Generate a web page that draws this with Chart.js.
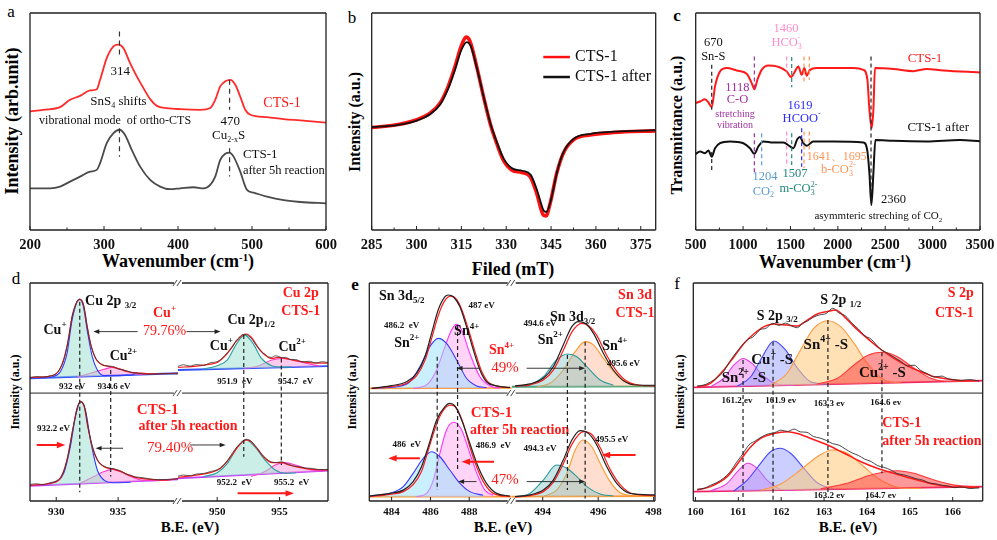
<!DOCTYPE html>
<html>
<head>
<meta charset="utf-8">
<script src="https://cdn.jsdelivr.net/npm/chart.js@4.4.1/dist/chart.umd.min.js"></script>
<style>
  body { margin: 0; background: #fff; width: 997px; height: 540px; position: relative; overflow: hidden; }
  canvas { position: absolute; }
  .t { position: absolute; white-space: nowrap; font-family: "Liberation Serif", serif; color: #000; transform: translate(-50%, -50%); line-height: 1; }
  .rot { transform: translate(-50%, -50%) rotate(-90deg); }
  .t sup { font-size: 0.6em; vertical-align: 0.6em; }
</style>
</head>
<body>
<div class="t" style="left:11px;top:11px;font-size:17px">a</div>
<div class="t" style="left:352px;top:17px;font-size:17px">b</div>
<div class="t" style="left:677px;top:15px;font-size:17px;font-weight:bold">c</div>
<div class="t" style="left:16px;top:278px;font-size:17px">d</div>
<div class="t" style="left:355px;top:284px;font-size:17px;font-weight:bold">e</div>
<div class="t" style="left:677px;top:283px;font-size:17px">f</div>

<div class="t rot" style="left:12px;top:121px;font-size:18px;font-weight:bold">Intensity (arb.unit)</div>
<div class="t" style="left:178px;top:261px;font-size:18px;font-weight:bold">Wavenumber (cm<sup>-1</sup>)</div>
<div class="t rot" style="left:355px;top:122px;font-size:16px;font-weight:bold">Intensity (a.u.)</div>
<div class="t" style="left:513px;top:269px;font-size:18px;font-weight:bold">Filed (mT)</div>
<div class="t rot" style="left:677px;top:125px;font-size:16px;font-weight:bold">Transmittance (a.u.)</div>
<div class="t" style="left:835px;top:262px;font-size:18px;font-weight:bold">Wavenumber (cm<sup>-1</sup>)</div>

<div class="t rot" style="left:15px;top:392px;font-size:12px;font-weight:bold">Intensity (a.u.)</div>
<div class="t" style="left:190px;top:527px;font-size:15px;font-weight:bold">B.E. (eV)</div>
<div class="t rot" style="left:352px;top:392px;font-size:12px;font-weight:bold">Intensity (a.u.)</div>
<div class="t" style="left:503px;top:527px;font-size:15px;font-weight:bold">B.E. (eV)</div>
<div class="t rot" style="left:680px;top:392px;font-size:12px;font-weight:bold">Intensity (a.u.)</div>
<div class="t" style="left:848px;top:527px;font-size:15px;font-weight:bold">B.E. (eV)</div>

<script>
// ===== DATA (x in axis units, y in arbitrary intensity 0-100 of the frame) =====

// a: Raman
const ramanCts1 = [[200,54.6],[218,55.4],[240.6,56.6],[254.1,60],[267.7,61.8],[281.2,64.3],[290.2,64.9],[294.7,69.2],[303.7,79.2],[312.8,84.6],[319.5,85.4],[326.3,83.8],[335.3,76.9],[344.3,70.8],[353.3,65.4],[362.4,60.3],[371.4,57.2],[384.9,56.2],[403,55.7],[430,55.4],[443.5,56.2],[450.3,60],[457.1,66.2],[463.8,68.5],[470.6,69.2],[477.4,66.9],[484.1,61.5],[490.9,55.4],[497.7,53.1],[520.2,52],[542.8,51.1],[565.3,50.5],[600,49.5]];
const ramanAfter = [[200,19.2],[227.1,19.2],[240.6,20],[254.1,22.3],[267.7,24.6],[281.2,26.9],[290.2,27.7],[294.7,30.8],[303.7,40],[312.8,44.6],[320.9,46.2],[328.5,43.8],[337.5,36.9],[348.8,29.2],[362.4,23.1],[375.9,20],[389.4,18.8],[403,19.2],[421,19.7],[434.5,19.2],[443.5,20.8],[450.3,24.6],[457.1,32.3],[463.8,35.1],[469.7,35.7],[475.1,33.8],[484.1,26.9],[493.2,18.5],[502.2,17.2],[520.2,15.4],[542.8,13.8],[565.3,12.9],[600,12.3]];
const ramanTicks = [200, 300, 400, 500, 600];

// b: EPR
const eprCts1 = [[285,47.2],[293.4,48.5],[300.1,50.8],[304.5,53.8],[307.9,58.5],[310.6,66.2],[312.9,75.4],[314.9,84.6],[316.6,88.9],[317.9,86.9],[320.1,75.4],[322.4,61.5],[324.6,49.2],[326.8,40],[329,32.3],[331.8,27.7],[335.2,26.5],[338,24.6],[340.2,16.9],[342.4,6.9],[343.3,6.5],[344.7,12.3],[346.9,26.2],[349.1,35.4],[352.5,41.5],[358,43.8],[365.8,44.9],[380,45.7]];
const eprAfter = [[285,47.4],[293.4,48.3],[300.1,50.4],[304.5,53.3],[307.9,57.8],[310.6,65.2],[312.9,74],[314.9,82.6],[316.8,86.6],[318.1,84.8],[320.3,74],[322.6,60.5],[324.8,48.7],[327,40],[329.2,32.8],[332,28.4],[335.4,27.3],[338.2,25.4],[340.4,18],[342.6,8.8],[343.4,8.3],[344.9,13.5],[347.1,27.3],[349.3,36.3],[352.7,42.2],[358.2,44.3],[366,45.3],[380,46]];
const eprTicks = [285, 300, 315, 330, 345, 360, 375];

// c: FTIR
const ftirCts1 = [[500,58.5],[546,59.2],[598,60.3],[634,58.8],[669,56.6],[704,66.2],[757,73.1],[827,74.6],[933,73.5],[1038,72],[1091,67.7],[1119,64.9],[1151,69.2],[1196,73.8],[1267,75.8],[1355,75.4],[1460,73.1],[1506,70.5],[1548,73.1],[1583,75.4],[1618,71.5],[1647,74.6],[1671,71.1],[1706,73.8],[1777,74.6],[1953,74.6],[2164,74.6],[2269,73.8],[2312,69.2],[2333,55.4],[2357,46.9],[2375,55.4],[2392,74.6],[2586,74.2],[2797,73.2],[2937,74.2],[3113,73.5],[3500,72.6]];
const ftirAfter = [[500,35.1],[546,36.2],[598,35.4],[634,36.6],[669,33.8],[704,37.7],[757,40],[862,40.8],[1003,40],[1073,37.7],[1119,35.1],[1161,38.5],[1214,40.8],[1319,40.3],[1425,40.3],[1495,38.5],[1530,37.7],[1572,41.8],[1600,42.8],[1636,40],[1671,38.8],[1741,40.8],[1953,40.8],[2269,40.3],[2312,36.2],[2333,26.2],[2354,11.5],[2375,26.2],[2396,41.5],[2586,41.1],[2937,40.8],[3289,41.5],[3500,40.9]];
const ftirTicks = [500, 1000, 1500, 2000, 2500, 3000, 3500];

// d: Cu 2p (left: 2p3/2, right: 2p1/2), top = CTS-1, bottom = after 5h
const dTLFit = [[927.88,56.7],[929.51,57.3],[930.33,60.9],[930.87,70.8],[931.28,84.6],[931.68,91.4],[931.9,92.5],[932.17,90.7],[932.5,80],[932.83,70.8],[933.18,65.4],[933.59,62.8],[934.4,61.6],[934.95,60.9],[935.76,59.3],[936.58,58.8],[937.66,58.3],[939.84,58.6]];
const dTLRaw = [[927.88,56.5],[928.4,57.1],[928.9,56.8],[929.51,57.4],[930,58.4],[930.33,61],[930.6,64.5],[930.87,71],[931.1,78],[931.28,84.5],[931.5,89],[931.68,91.5],[931.9,92.6],[932.17,90.5],[932.35,86],[932.5,80.2],[932.7,74],[932.83,71],[933.18,65.6],[933.59,63],[934,62],[934.4,61.8],[934.7,61.5],[934.95,60.6],[935.3,60.3],[935.76,59.6],[936.2,58.8],[936.58,58.6],[937.1,58.2],[937.66,58.1],[938.5,58.4],[939.84,58.3]];
const dTLCu1 = [[929.51,56.6],[930.33,59.3],[930.87,67.7],[931.28,83],[931.68,91.4],[931.9,92.5],[932.17,89.9],[932.5,78.4],[932.91,66.2],[933.32,60.1],[933.86,57.5],[934.67,57.5],[936.3,57.9]];
const dTLCu2 = [[931.68,56.9],[932.77,58.6],[933.86,60.4],[934.54,61.3],[935.22,60.4],[936.03,58.9],[936.85,58.1],[937.66,58.2]];
const dTLBase = [[927.88,56.3],[939.84,58.6]];
const dBLFit = [[927.88,7.3],[929.51,8.1],[930.33,10.4],[930.87,18.8],[931.28,31],[931.68,42.5],[931.96,45.6],[932.23,44],[932.55,34.1],[932.91,24.9],[933.32,18.8],[933.86,15.7],[934.67,14.5],[935.22,13.5],[936.03,11.5],[936.85,10.4],[939.02,9.6],[939.84,10.4]];
const dBLRaw = [[927.88,7.6],[928.4,7.9],[928.9,7.5],[929.51,8.4],[930,9.2],[930.33,10.8],[930.6,13.5],[930.87,19],[931.1,25],[931.28,31.2],[931.5,37.5],[931.68,42.3],[931.96,45.4],[932.23,44.2],[932.4,40],[932.55,34.5],[932.75,29],[932.91,25.2],[933.32,19],[933.6,16.8],[933.86,16],[934.2,15.2],[934.67,14.8],[935,14.2],[935.22,13.8],[935.6,12.5],[936.03,11.8],[936.4,11],[936.85,10.8],[937.5,10.2],[938.2,9.8],[939.02,9.9],[939.84,10.2]];
const dBLCu1 = [[929.51,7.8],[930.6,12.7],[931.14,24.9],[931.55,38.7],[931.96,45.6],[932.36,41.7],[932.77,27.9],[933.32,14.2],[933.86,9.6],[934.67,8.4],[936,8.6]];
const dBLCu2 = [[931.96,8.1],[933.04,11.2],[933.86,13.5],[934.54,14.5],[935.22,13.5],[936.03,11.2],[936.85,9.6],[937.93,9.3]];
const dBLBase = [[927.88,6.9],[939.84,9.9]];
const dTRFit = [[946.86,61.3],[948.36,61.9],[949.45,62.8],[950,63.5],[950.82,67.7],[951.5,73.1],[952.05,76.1],[952.32,76.6],[952.73,75.1],[953.28,70.5],[953.83,67],[954.37,65.4],[954.92,65.9],[955.46,65.4],[956.28,64.4],[957.38,63.5],[958.88,63.2]];
const dTRRaw = [[946.86,61.8],[947.3,62.5],[947.8,61.9],[948.36,62.6],[948.9,62.2],[949.45,63.4],[950,63.9],[950.4,65.5],[950.82,68.2],[951.2,70.5],[951.5,73.4],[951.8,75.2],[952.05,76.4],[952.32,76.3],[952.73,74.6],[953,72.5],[953.28,70.2],[953.6,68],[953.83,67.4],[954.1,66.1],[954.37,65.9],[954.64,66.6],[954.92,66.3],[955.2,65.7],[955.46,65.9],[955.9,64.9],[956.28,64.9],[956.8,63.8],[957.38,64.1],[957.9,63.3],[958.4,63.9],[958.88,63.5]];
const dTRCu1 = [[948.91,60.6],[950,62],[950.82,64.7],[951.5,71.6],[952.19,76.1],[952.87,72.3],[953.55,65.4],[954.37,62],[955.19,61.4],[956,61.5]];
const dTRCu2 = [[952.19,60.8],[953.28,61.9],[954.37,64.7],[955.19,65.4],[956.01,64.7],[957.1,63.2],[958.2,61.9]];
const dTRBase = [[946.86,60.1],[958.88,61.9]];
const dBRFit = [[946.86,10.9],[948.36,11.9],[949.45,13],[950.27,15],[951.09,20.3],[951.78,25.7],[952.32,28],[952.73,27.2],[953.28,23.4],[953.83,19.6],[954.37,17.6],[955.19,17.6],[955.74,16.5],[956.56,15.4],[957.65,14.5],[958.88,14.2]];
const dBRRaw = [[946.86,11.4],[947.3,11.9],[947.8,11.6],[948.36,12.4],[948.9,12.6],[949.45,13.5],[950,14.3],[950.27,15.3],[950.7,17.6],[951.09,20.8],[951.4,23.5],[951.78,26],[952.05,27.6],[952.32,28.3],[952.73,27.4],[953,25.6],[953.28,23.8],[953.55,21.5],[953.83,20],[954.1,18.6],[954.37,17.9],[954.7,17.6],[955.19,18],[955.5,17.2],[955.74,16.8],[956.1,16.1],[956.56,15.7],[957,15.2],[957.65,14.9],[958.2,14.4],[958.88,14.5]];
const dBRCu1 = [[948.91,11.2],[950,13],[950.82,17.3],[951.64,24.9],[952.32,28],[953.01,24.9],[953.83,18.8],[954.64,14.2],[955.46,12.7],[956.3,12.9]];
const dBRCu2 = [[952.73,11.2],[953.83,13.5],[954.64,16.5],[955.46,17.6],[956.28,16.5],[957.38,14.5],[958.47,13.5]];
const dBRBase = [[946.86,10.4],[958.88,13.9]];
const dLeftTicks = [930, 935];
const dRightTicks = [950, 955];

// e: Sn 3d (left: 3d5/2, right: 3d3/2)
const eTLBlack = [[482.97,51.7],[483.91,52.8],[484.77,54.7],[485.29,58.6],[485.72,66.2],[486.06,76.9],[486.4,87.6],[486.75,93.7],[486.92,94.5],[487.18,93.7],[487.52,89.1],[487.86,80],[488.21,69.3],[488.55,60.1],[488.89,54.7],[489.41,52.8],[490.1,52.1]];
const eTLRed = [[482.97,51.7],[483.91,52.5],[484.77,54],[485.29,57.5],[485.72,64.5],[486.06,74.5],[486.4,85],[486.75,92],[487.04,94],[487.35,92.5],[487.61,88],[487.95,79],[488.3,68.5],[488.64,59.5],[488.98,54.5],[489.5,52.6],[490.1,52]];
const eTLSn2 = [[483.05,51.7],[484.26,52.4],[484.94,54.7],[485.46,61.6],[485.97,70.8],[486.4,74.6],[486.83,72.3],[487.35,64.7],[487.86,56.3],[488.38,52.8],[488.89,52]];
const eTLSn4 = [[485.11,51.7],[485.8,53.2],[486.32,60.1],[486.75,70.8],[487.09,78.4],[487.35,81],[487.61,78.4],[488.03,67.7],[488.55,57],[489.07,52.8],[489.58,51.8]];
const eTLBase = [[482.85,51.7],[490.19,51.9]];
const eBLBlack = [[482.88,2.3],[483.91,3.5],[484.6,5],[485.11,8.9],[485.54,15.7],[485.97,27.2],[486.32,37.2],[486.75,43.3],[487,44.8],[487.26,43.6],[487.61,37.2],[488.03,26.5],[488.46,15.7],[488.89,8.1],[489.41,3.5],[490.1,2.3]];
const eBLRed = [[482.88,2],[483.91,3],[484.6,4.3],[485.11,7.5],[485.54,13.5],[485.97,25.7],[486.4,37.2],[486.83,43.3],[487.09,44],[487.35,42.5],[487.69,35.6],[488.03,24.9],[488.38,15.7],[488.72,8.9],[489.24,3.5],[490.1,2]];
const eBLSn2 = [[482.88,2.3],[483.91,3.5],[484.6,6.6],[485.11,12.7],[485.63,19.6],[486.06,22.6],[486.49,20.3],[487,14.2],[487.52,8.1],[488.03,4.3],[488.72,2.6]];
const eBLSn4 = [[485.29,2],[485.8,3.5],[486.15,9.6],[486.49,21.9],[486.83,32.6],[487.21,36.1],[487.61,32.6],[488.03,21.9],[488.46,11.2],[488.81,5],[489.24,2.6]];
const eBLBase = [[482.85,2],[490.19,2]];
const eTRBlack = [[493,52.8],[493.54,53.7],[494.02,56.3],[494.38,61.6],[494.74,71.6],[495.05,80],[495.29,82.3],[495.53,81.5],[495.83,76.9],[496.19,67.7],[496.55,60.1],[496.91,55.2],[497.39,53.2],[498.05,53.1]];
const eTRRed = [[493,52.6],[493.54,53.3],[494.02,55.5],[494.38,60],[494.74,69],[495.05,77.5],[495.41,81.5],[495.65,80.5],[495.95,76],[496.3,67],[496.67,59.5],[497.03,55],[497.5,53.1],[498.05,52.8]];
const eTRSn2 = [[493.06,52.4],[493.54,53.2],[494.02,57],[494.5,64.7],[494.89,67.4],[495.23,66.2],[495.59,61.6],[496.07,55.5],[496.55,53.1]];
const eTRSn4 = [[493.78,52.4],[494.26,54],[494.74,60.1],[495.17,68.5],[495.53,73.1],[495.83,71.6],[496.19,65.4],[496.67,57.8],[497.15,53.7],[497.63,52.8]];
const eTRBase = [[492.88,52.4],[498.05,52.6]];
const eBRBlack = [[493,2],[493.54,2.8],[494.02,5],[494.38,9.6],[494.74,18.8],[495.05,28],[495.35,32.3],[495.65,31],[495.95,25.7],[496.31,15.7],[496.67,8.1],[497.15,3.5],[498.05,2.8]];
const eBRRed = [[493,1.8],[493.54,2.5],[494.02,4.3],[494.38,8.5],[494.74,17],[495.05,26],[495.47,31.8],[495.77,30.5],[496.07,24.5],[496.43,14.5],[496.79,7.5],[497.27,3.2],[498.05,2.5]];
const eBRSn2 = [[493.06,2],[493.54,3.5],[494.02,9.6],[494.5,16.5],[494.87,15],[495.23,11.2],[495.59,6.6],[496.07,3.2],[496.55,2.3]];
const eBRSn4 = [[494.02,2],[494.5,5],[494.87,12.7],[495.17,23.4],[495.44,28],[495.77,24.9],[496.07,17.3],[496.43,8.9],[496.79,3.8],[497.27,2.3]];
const eBRBase = [[492.88,2],[498.05,2.3]];
const eLeftTicks = [484, 486, 488];
const eRightTicks = [494, 496, 498];

// f: S 2p
const fTopFit = [[160.04,52.4],[160.35,54],[160.66,60.1],[160.9,66.2],[161.13,72.3],[161.36,76.6],[161.6,80],[161.83,81.2],[162.14,80.7],[162.38,80.3],[162.61,83],[162.84,85.8],[163.08,86.9],[163.27,87.6],[163.47,84.6],[163.7,80],[164.01,74.6],[164.32,69.6],[164.63,65.4],[164.95,61.9],[165.26,59.3],[165.57,57],[165.88,56],[166.19,55.2],[166.62,55.2]];
const fTopRaw = [[160.04,52.8],[160.2,53.2],[160.35,54.6],[160.5,56.5],[160.66,59.5],[160.8,64],[160.9,66.8],[161.05,70.5],[161.2,73.8],[161.36,75.5],[161.5,78.5],[161.65,79.3],[161.8,81.5],[161.95,80.6],[162.1,81.6],[162.25,80.2],[162.38,79.5],[162.5,81.6],[162.61,82.5],[162.75,84.3],[162.9,85.4],[163.05,86],[163.2,88.4],[163.35,86.2],[163.5,84.9],[163.65,81.6],[163.8,78.9],[163.95,75.8],[164.1,74.2],[164.3,69.9],[164.5,67.6],[164.65,65.7],[164.8,63.9],[164.95,62],[165.1,62.3],[165.26,59.8],[165.4,58.5],[165.57,56.9],[165.75,57.3],[165.88,56.1],[166.05,55.6],[166.2,55.4],[166.4,55.7],[166.62,55]];
const fTopSn2 = [[160.35,52.4],[160.66,56.3],[160.9,62.4],[161.11,65.4],[161.32,63.1],[161.6,57],[161.91,53.7],[162.3,53]];
const fTopCu1 = [[160.97,52.6],[161.29,57],[161.56,66.2],[161.83,73.4],[162.1,69.3],[162.38,60.9],[162.69,54.7],[163.08,53.6]];
const fTopSn4 = [[161.75,53],[162.14,58.6],[162.45,69.3],[162.76,79.2],[163.08,82.7],[163.39,80],[163.7,72.3],[164.01,63.1],[164.4,55.5],[164.79,54.1]];
const fTopCu2 = [[162.84,53.6],[163.31,56.3],[163.7,62.4],[164.01,66.7],[164.36,68.2],[164.71,66.2],[165.1,60.9],[165.49,56.3],[165.88,54.8],[166.35,54.9]];
const fTopBase = [[159.95,52.1],[166.7,55.2]];
const fBotFit = [[160.04,5],[160.35,6.6],[160.74,11.2],[161.05,18.8],[161.29,24.9],[161.52,28.7],[161.83,31],[162.14,31.8],[162.38,31],[162.69,28.7],[163.08,25.7],[163.47,21.9],[163.86,18],[164.24,15],[164.63,12.7],[165.02,10.4],[165.41,8.4],[165.8,6.9],[166.19,6.3],[166.62,6.3]];
const fBotRaw = [[160.04,5.4],[160.2,5.8],[160.35,7.2],[160.5,8.5],[160.66,10.5],[160.8,13.2],[160.95,17.5],[161.1,21.5],[161.25,25.8],[161.4,27.6],[161.55,29.5],[161.7,30.8],[161.85,31.4],[162,32.5],[162.15,31.9],[162.3,33],[162.45,31.7],[162.6,31.5],[162.75,29.6],[162.9,28.9],[163.05,27.8],[163.2,26.3],[163.35,25.6],[163.5,23.8],[163.65,22.1],[163.8,20.9],[163.95,19.2],[164.1,18.1],[164.25,16.2],[164.4,15.4],[164.55,14.3],[164.7,12.6],[164.85,12],[165,11.2],[165.15,10.2],[165.3,9.6],[165.45,8.3],[165.6,7.9],[165.75,7.2],[165.9,6.9],[166.05,6.1],[166.2,6.5],[166.4,5.7],[166.62,6]];
const fBotSn2 = [[160.35,4.6],[160.74,8.1],[161.01,14.2],[161.22,17.3],[161.44,15],[161.67,9.6],[161.99,5.4],[162.3,4.9]];
const fBotCu1 = [[160.9,4.6],[161.21,9.6],[161.52,17.3],[161.75,22.6],[161.97,24.2],[162.22,21.9],[162.53,15],[162.84,8.4],[163.23,5.4]];
const fBotSn4 = [[161.52,4.9],[161.99,7.8],[162.45,14.2],[162.84,20.3],[163.19,23.4],[163.54,21.9],[163.93,15.7],[164.32,9.6],[164.79,6],[165.26,5.8]];
const fBotCu2 = [[162.92,5.6],[163.54,8.1],[164.01,11.5],[164.4,13.3],[164.71,13.9],[165.1,12.7],[165.57,9.6],[166.04,7.3],[166.58,6.6]];
const fBotBase = [[159.95,4.3],[166.7,6.6]];
const fTicks = [160, 161, 162, 163, 164, 165, 166];

// ===== HELPERS =====
const SERIF = '"Liberation Serif", "Times New Roman", serif';
const RED = "#ff1a1a";

function pts(arr) {
    return arr.map((p) => ({ x: p[0], y: p[1] }));
}

function curve(data, color, width, extra) {
    return Object.assign(
        { data: pts(data), borderColor: color, borderWidth: width, pointRadius: 0, fill: false, cubicInterpolationMode: "monotone", order: 1 },
        extra || {},
    );
}

// fitted component, filled down to its baseline dataset
function peak(data, color, bg, baseIdx) {
    return curve(data, color, 1.1, { fill: { target: baseIdx }, backgroundColor: bg, order: 2 });
}

function base(data, color) {
    return curve(data, color, 1.8, { cubicInterpolationMode: "default", tension: 0, order: 3 });
}

// text with _{sub} and ^{sup}
function rich(ctx, s, x, y, size, weight, color, align) {
    const parts = [];
    const re = /([_^])\{([^}]*)\}/g;
    let last = 0, m;
    while ((m = re.exec(s))) {
        if (m.index > last) parts.push({ t: s.slice(last, m.index), k: "" });
        parts.push({ t: m[2], k: m[1] });
        last = re.lastIndex;
    }
    if (last < s.length) parts.push({ t: s.slice(last), k: "" });
    const small = Math.round(size * 0.64);
    const fnt = (sz) => `${weight} ${sz}px ${SERIF}`;
    let w = 0;
    const placed = [];
    parts.forEach((p, i) => {
        ctx.font = fnt(p.k ? small : size);
        const pw = ctx.measureText(p.t).width;
        if (p.k === "^" && i > 0 && parts[i - 1].k === "_") {
            const st = placed[placed.length - 1].dx;
            placed.push({ ...p, dx: st });
            w = Math.max(w, st + pw);
        } else {
            placed.push({ ...p, dx: w });
            w += pw;
        }
    });
    const x0 = align === "left" ? x : align === "right" ? x - w : x - w / 2;
    ctx.fillStyle = color;
    ctx.textBaseline = "middle";
    ctx.textAlign = "left";
    placed.forEach((p) => {
        ctx.font = fnt(p.k ? small : size);
        const dy = p.k === "_" ? size * 0.3 : p.k === "^" ? -size * 0.38 : 0;
        ctx.fillText(p.t, x0 + p.dx, y + dy);
    });
}

function arrowTo(ctx, x1, y1, x2, y2, color, width) {
    const ang = Math.atan2(y2 - y1, x2 - x1);
    const hl = 4 + width * 2.2;
    ctx.strokeStyle = color;
    ctx.fillStyle = color;
    ctx.lineWidth = width;
    ctx.beginPath();
    ctx.moveTo(x1, y1);
    ctx.lineTo(x2 - Math.cos(ang) * hl * 0.8, y2 - Math.sin(ang) * hl * 0.8);
    ctx.stroke();
    ctx.beginPath();
    ctx.moveTo(x2, y2);
    ctx.lineTo(x2 - hl * Math.cos(ang) + (hl / 2.6) * Math.sin(ang), y2 - hl * Math.sin(ang) - (hl / 2.6) * Math.cos(ang));
    ctx.lineTo(x2 - hl * Math.cos(ang) - (hl / 2.6) * Math.sin(ang), y2 - hl * Math.sin(ang) + (hl / 2.6) * Math.cos(ang));
    ctx.closePath();
    ctx.fill();
}

// frame, mid divider, inward ticks, axis break marks
function framePlugin(spec) {
    return {
        id: "frame",
        afterDatasetsDraw(chart) {
            const { ctx, chartArea: a, scales } = chart;
            ctx.save();
            ctx.strokeStyle = "#222";
            ctx.lineWidth = 1.3;
            ctx.beginPath();
            const s = spec.sides;
            if (s.includes("t")) { ctx.moveTo(a.left, a.top); ctx.lineTo(a.right, a.top); }
            if (s.includes("b")) { ctx.moveTo(a.left, a.bottom); ctx.lineTo(a.right, a.bottom); }
            if (s.includes("l")) { ctx.moveTo(a.left, a.top); ctx.lineTo(a.left, a.bottom); }
            if (s.includes("r")) { ctx.moveTo(a.right, a.top); ctx.lineTo(a.right, a.bottom); }
            ctx.stroke();
            const ys = [a.top, a.bottom];
            if (spec.mid != null) {
                const my = scales.y.getPixelForValue(spec.mid);
                ys.push(my);
                ctx.lineWidth = 1;
                ctx.beginPath();
                ctx.moveTo(a.left, my);
                ctx.lineTo(a.right, my);
                ctx.stroke();
            }
            ctx.lineWidth = 1;
            const tick = (v, len) => {
                const px = scales.x.getPixelForValue(v);
                ctx.beginPath();
                ctx.moveTo(px, a.bottom);
                ctx.lineTo(px, a.bottom - len);
                ctx.stroke();
            };
            (spec.major || []).forEach((v) => tick(v, 4));
            (spec.minor || []).forEach((v) => tick(v, 2.5));
            if (spec.brk) {
                ys.forEach((yy) => {
                    const bx = a.left;
                    ctx.fillStyle = "#fff";
                    ctx.fillRect(bx - 4, yy - 2, 8, 4);
                    ctx.strokeStyle = "#333";
                    ctx.lineWidth = 0.9;
                    ctx.beginPath();
                    ctx.moveTo(bx - 5, yy + 3); ctx.lineTo(bx - 1, yy - 3);
                    ctx.moveTo(bx - 1, yy + 3); ctx.lineTo(bx + 3, yy - 3);
                    ctx.stroke();
                });
            }
            ctx.restore();
        },
    };
}

function notesPlugin(spec) {
    return {
        id: "notes",
        afterDatasetsDraw(chart) {
            const { ctx, scales: { x, y } } = chart;
            const X = (v) => x.getPixelForValue(v);
            const Y = (v) => y.getPixelForValue(v);
            ctx.save();
            (spec.vlines || []).forEach((l) => {
                ctx.strokeStyle = l.c || "#222";
                ctx.lineWidth = l.w || 1.2;
                ctx.setLineDash(l.dash || [4, 3]);
                ctx.beginPath();
                ctx.moveTo(X(l.x), Y(l.y1));
                ctx.lineTo(X(l.x), Y(l.y2));
                ctx.stroke();
            });
            ctx.setLineDash([]);
            (spec.segs || []).forEach((l) => {
                ctx.strokeStyle = l.c;
                ctx.lineWidth = l.w;
                ctx.beginPath();
                ctx.moveTo(X(l.x1), Y(l.y));
                ctx.lineTo(X(l.x2), Y(l.y));
                ctx.stroke();
            });
            (spec.arrows || []).forEach((r) => arrowTo(ctx, X(r.x1), Y(r.y), X(r.x2), Y(r.y), r.c || "#222", r.w || 0.9));
            (spec.texts || []).forEach((t) => rich(ctx, t.s, X(t.x), Y(t.y), t.size || 13, t.b ? "bold" : "normal", t.c || "#111", t.align || "center"));
            ctx.restore();
        },
    };
}

function makeChart(cfg) {
    const cv = document.createElement("canvas");
    const [bx, by, bw, bh] = cfg.box;
    cv.width = bw;
    cv.height = bh;
    cv.style.left = bx + "px";
    cv.style.top = by + "px";
    cv.style.width = bw + "px";
    cv.style.height = bh + "px";
    document.body.appendChild(cv);
    return new Chart(cv.getContext("2d"), {
        type: "line",
        data: { datasets: cfg.datasets },
        options: {
            responsive: false,
            animation: false,
            devicePixelRatio: 1,
            events: [],
            layout: { padding: { left: cfg.pad[0], top: cfg.pad[1], right: cfg.pad[2], bottom: 0 } },
            plugins: { legend: { display: false }, tooltip: { enabled: false } },
            scales: {
                x: {
                    type: "linear",
                    min: cfg.xr[0],
                    max: cfg.xr[1],
                    grid: { display: false, drawTicks: false },
                    border: { display: false },
                    afterBuildTicks: (s) => { s.ticks = cfg.ticks.map((v) => ({ value: v })); },
                    afterFit: (s) => { s.height = cfg.axisH; s.paddingLeft = 0; s.paddingRight = 0; },
                    ticks: {
                        font: { family: SERIF, size: cfg.tickSize, weight: "bold" },
                        color: "#111",
                        padding: cfg.tickPad,
                        maxRotation: 0,
                        autoSkip: false,
                        callback: (v) => String(v),
                    },
                },
                y: { type: "linear", display: false, min: 0, max: 100 },
            },
        },
        plugins: [framePlugin(cfg.frame), notesPlugin(cfg.notes || {})],
    });
}

// ===== TOP ROW =====
const TOP = { axisH: 22, tickSize: 14.5, tickPad: 7 };

makeChart({
    ...TOP, box: [0, 0, 345, 252], pad: [30, 13, 19], xr: [200, 600], ticks: ramanTicks,
    frame: { sides: "tlbr", major: ramanTicks, minor: [250, 350, 450, 550] },
    datasets: [curve(ramanCts1, "#ff2a2a", 1.8), curve(ramanAfter, "#4a4a4a", 1.8)],
    notes: {
        vlines: [
            { x: 320.9, y1: 91.5, y2: 80.8, c: "#333", dash: [5, 4] },
            { x: 320.9, y1: 46.9, y2: 33.8, c: "#333", dash: [5, 4] },
            { x: 469.7, y1: 69.2, y2: 55.4, c: "#333", dash: [5, 4] },
            { x: 469.7, y1: 37.7, y2: 24.6, c: "#333", dash: [5, 4] },
        ],
        texts: [
            { x: 321.8, y: 73.1, s: "314" },
            { x: 319.5, y: 59.2, s: "SnS_{4} shifts" },
            { x: 315, y: 50.5, s: "vibrational mode  of ortho-CTS", size: 12 },
            { x: 470.6, y: 50, s: "470" },
            { x: 468.4, y: 43.4, s: "Cu_{2-x}S" },
            { x: 540.5, y: 58.5, s: "CTS-1", size: 14, c: RED },
            { x: 487.7, y: 34.6, s: "CTS-1", align: "left" },
            { x: 487.7, y: 27.4, s: "after 5h reaction", size: 12.5, align: "left" },
        ],
    },
});

makeChart({
    ...TOP, box: [330, 0, 330, 252], pad: [41.7, 13, 4.3], xr: [285, 380], ticks: eprTicks,
    frame: { sides: "tlbr", major: eprTicks, minor: [292.5, 307.5, 322.5, 337.5, 352.5, 367.5] },
    datasets: [curve(eprAfter, "#111", 1.8), curve(eprCts1, "#ff1010", 3.6, { order: 2 })],
    notes: {
        segs: [
            { x1: 342.4, x2: 351.3, y: 79.7, c: "#ff1010", w: 2.5 },
            { x1: 342.4, x2: 351.3, y: 70.5, c: "#111", w: 2.5 },
        ],
        texts: [
            { x: 353, y: 79.7, s: "CTS-1", size: 16, align: "left" },
            { x: 353, y: 70.5, s: "CTS-1 after", size: 16, align: "left" },
        ],
    },
});

const PURPLE = "#a030a0", PINK = "#ff8ccc", TEAL = "#20857a", ORANGE = "#ff9455", LBLUE = "#5b9bd5", BLUE = "#2a2aff";
makeChart({
    ...TOP, box: [660, 0, 337, 252], pad: [35.7, 13, 17], xr: [500, 3500], ticks: ftirTicks,
    frame: { sides: "tlbr", major: ftirTicks, minor: [750, 1250, 1750, 2250, 2750, 3250] },
    datasets: [curve(ftirCts1, "#ff1a1a", 2), curve(ftirAfter, "#111", 2)],
    notes: {
        vlines: [
            { x: 669, y1: 76.2, y2: 55.4, c: "#222" }, { x: 669, y1: 36, y2: 27.7, c: "#222" },
            { x: 1119, y1: 80, y2: 64.6, c: PURPLE }, { x: 1119, y1: 44.6, y2: 26.2, c: PURPLE },
            { x: 1196, y1: 44.6, y2: 29.2, c: LBLUE },
            { x: 1460, y1: 80, y2: 73.1, c: PINK }, { x: 1460, y1: 45.4, y2: 29.2, c: PINK },
            { x: 1513, y1: 79.7, y2: 65.8, c: TEAL }, { x: 1513, y1: 44.6, y2: 30, c: TEAL },
            { x: 1618, y1: 46.9, y2: 29.2, c: BLUE },
            { x: 1643, y1: 80, y2: 67.7, c: ORANGE }, { x: 1643, y1: 45.4, y2: 28.5, c: ORANGE },
            { x: 1699, y1: 80, y2: 69.2, c: ORANGE }, { x: 1699, y1: 45.4, y2: 35.4, c: ORANGE },
            { x: 2350, y1: 80, y2: 12.3, c: "#222" },
        ],
        texts: [
            { x: 686, y: 86.2, s: "670", size: 12.5 },
            { x: 686, y: 79.7, s: "Sn-S", size: 12.5 },
            { x: 1453, y: 92.6, s: "1460", size: 12.5, c: PINK },
            { x: 1460, y: 86.2, s: "HCO_{3}^{-}", size: 12.5, c: PINK },
            { x: 2920, y: 78.8, s: "CTS-1", size: 13, c: RED },
            { x: 940, y: 65.4, s: "1118", size: 12.5, c: PURPLE },
            { x: 940, y: 60, s: "C-O", size: 12.5, c: PURPLE },
            { x: 915, y: 53.1, s: "stretching", size: 10, c: PURPLE },
            { x: 915, y: 48, s: "vibration", size: 10, c: PURPLE },
            { x: 1601, y: 57.2, s: "1619", size: 12.5, c: BLUE },
            { x: 1618, y: 51.5, s: "HCOO^{-}", size: 12.5, c: BLUE },
            { x: 3060, y: 47.2, s: "CTS-1 after", size: 13 },
            { x: 1232, y: 24.6, s: "1204", size: 12.5, c: LBLUE },
            { x: 1214, y: 17.7, s: "CO_{2}^{-}", size: 12.5, c: LBLUE },
            { x: 1548, y: 25.8, s: "1507", size: 12.5, c: TEAL },
            { x: 1583, y: 18.8, s: "m-CO_{3}^{2-}", size: 12.5, c: TEAL },
            { x: 1988, y: 33.8, s: "1641、1695", size: 12, c: ORANGE },
            { x: 2005, y: 27.7, s: "b-CO_{3}^{2-}", size: 12.5, c: ORANGE },
            { x: 2586, y: 13.8, s: "2360", size: 12.5 },
            { x: 2427, y: 6.2, s: "asymmteric streching of CO_{2}", size: 11 },
        ],
    },
});

// ===== BOTTOM ROW =====
const BOT = { axisH: 39, tickSize: 11, tickPad: 5 };
const MID = 49.5;

// d: Cu 2p
const CU1_LINE = "#2b3cff", CU1_FILL = "rgba(160,225,210,0.55)";
const CU2_LINE = "#ff3cc8", CU2_FILL = "rgba(255,160,220,0.55)";
makeChart({
    ...BOT, box: [0, 262, 330, 278], pad: [30, 21, 152], xr: [927.88, 939.84], ticks: dLeftTicks,
    frame: { sides: "tlb", mid: MID, major: dLeftTicks },
    datasets: [
        base(dTLBase, "#3050ff"), base(dBLBase, "#c040ff"),
        peak(dTLCu1, CU1_LINE, CU1_FILL, 0), peak(dTLCu2, CU2_LINE, CU2_FILL, 0),
        peak(dBLCu1, CU1_LINE, CU1_FILL, 1), peak(dBLCu2, CU2_LINE, CU2_FILL, 1),
        curve(dTLRaw, "#333", 0.8), curve(dTLFit, RED, 1.2),
        curve(dBLRaw, "#333", 0.8), curve(dBLFit, RED, 1.2),
    ],
    notes: {
        vlines: [
            { x: 931.9, y1: 91.4, y2: 4 },
            { x: 934.4, y1: 60.1, y2: 11.2 },
        ],
        arrows: [
            { x1: 936.58, x2: 933, y: 77.7 },
            { x1: 935.4, x2: 933.18, y: 24.2 },
            { x1: 928.42, x2: 930.73, y: 25.7, c: RED, w: 2 },
        ],
        texts: [
            { x: 934.4, y: 91.4, s: "Cu 2p _{3/2}", size: 14, b: true },
            { x: 929.9, y: 78.4, s: "Cu^{+}", size: 14, b: true },
            { x: 938.75, y: 86, s: "Cu^{+}", size: 14, b: true, c: RED },
            { x: 938.75, y: 77.7, s: "79.76%", size: 14, c: RED },
            { x: 935.43, y: 66.2, s: "Cu^{2+}", size: 14, b: true },
            { x: 931.28, y: 52.4, s: "932 eV", size: 9, b: true },
            { x: 934.67, y: 52.4, s: "934.6 eV", size: 9, b: true },
            { x: 929.78, y: 33.3, s: "932.2 eV", size: 9, b: true },
            { x: 938.2, y: 41.7, s: "CTS-1", size: 15, b: true, c: RED },
            { x: 940.65, y: 34.1, s: "after 5h reaction", size: 14, b: true, c: RED },
            { x: 939.2, y: 24.2, s: "79.40%", size: 15, c: RED },
        ],
    },
});
makeChart({
    ...BOT, box: [0, 262, 330, 278], pad: [178, 21, 2], xr: [946.86, 958.88], ticks: dRightTicks,
    frame: { sides: "trb", mid: MID, major: dRightTicks, brk: true },
    datasets: [
        base(dTRBase, "#3050ff"), base(dBRBase, "#c040ff"),
        peak(dTRCu1, "#2aa0a0", CU1_FILL, 0), peak(dTRCu2, CU2_LINE, CU2_FILL, 0),
        peak(dBRCu1, "#2aa0a0", CU1_FILL, 1), peak(dBRCu2, CU2_LINE, CU2_FILL, 1),
        curve(dTRRaw, "#333", 0.8), curve(dTRFit, RED, 1.2),
        curve(dBRRaw, "#333", 0.8), curve(dBRFit, RED, 1.2),
    ],
    notes: {
        vlines: [
            { x: 952.13, y1: 76.1, y2: 20.3 },
            { x: 955.14, y1: 65.4, y2: 16.5 },
        ],
        arrows: [
            { x1: 947.54, x2: 950.27, y: 77.7 },
            { x1: 947.81, x2: 950.68, y: 25.7 },
            { x1: 951.64, x2: 956.15, y: 3.5, c: RED, w: 2 },
        ],
        texts: [
            { x: 956.7, y: 95.3, s: "Cu 2p", size: 14, b: true, c: RED },
            { x: 956.7, y: 86.9, s: "CTS-1", size: 14, b: true, c: RED },
            { x: 952.73, y: 83, s: "Cu 2p_{1/2}", size: 14, b: true },
            { x: 950.33, y: 71.1, s: "Cu^{+}", size: 14, b: true },
            { x: 956.01, y: 70.5, s: "Cu^{2+}", size: 14, b: true },
            { x: 951.42, y: 54.7, s: "951.9  eV", size: 9, b: true },
            { x: 956.28, y: 54.7, s: "954.7  eV", size: 9, b: true },
            { x: 951.37, y: 8.4, s: "952.2  eV", size: 9, b: true },
            { x: 955.96, y: 8.4, s: "955.2  eV", size: 9, b: true },
        ],
    },
});

// e: Sn 3d
const SN2L_LINE = "#3a3aff", SN2L_FILL = "rgba(150,225,255,0.5)";
const SN4L_LINE = "#ff30ff", SN4L_FILL = "rgba(255,170,240,0.5)";
const SN2R_LINE = "#2a9a9a", SN2R_FILL = "rgba(120,190,190,0.4)";
const SN4R_LINE = "#ff9a30", SN4R_FILL = "rgba(255,190,160,0.5)";
makeChart({
    ...BOT, box: [330, 262, 345, 278], pad: [39.3, 21, 163.3], xr: [482.85, 490.19], ticks: eLeftTicks,
    frame: { sides: "tlb", mid: MID, major: eLeftTicks },
    datasets: [
        base(eTLBase, "#ff9a30"), base(eBLBase, "#ff9a30"),
        peak(eTLSn2, SN2L_LINE, SN2L_FILL, 0), peak(eTLSn4, SN4L_LINE, SN4L_FILL, 0),
        peak(eBLSn2, SN2L_LINE, SN2L_FILL, 1), peak(eBLSn4, SN4L_LINE, SN4L_FILL, 1),
        curve(eTLBlack, "#222", 1.2), curve(eTLRed, RED, 1.2),
        curve(eBLBlack, "#222", 1.2), curve(eBLRed, RED, 1.2),
    ],
    notes: {
        vlines: [
            { x: 486.35, y1: 66.2, y2: 5 },
            { x: 487.4, y1: 80.7, y2: 14.2 },
        ],
        arrows: [
            { x1: 488.55, x2: 487.35, y: 60.9 },
            { x1: 488.38, x2: 487.43, y: 8.9 },
            { x1: 485.46, x2: 483.83, y: 19.6, c: RED, w: 2 },
            { x1: 489.28, x2: 487.61, y: 18, c: RED, w: 2 },
        ],
        texts: [
            { x: 484.52, y: 94, s: "Sn 3d_{5/2}", size: 14, b: true },
            { x: 488.64, y: 89.4, s: "487 eV", size: 9, b: true },
            { x: 484.52, y: 80.3, s: "486.2  eV", size: 9, b: true },
            { x: 487.87, y: 77.7, s: "Sn^{4+}", size: 14, b: true },
            { x: 484.78, y: 72.3, s: "Sn^{2+}", size: 14, b: true },
            { x: 489.67, y: 68.9, s: "Sn^{4+}", size: 14, b: true, c: RED },
            { x: 489.84, y: 60.9, s: "49%", size: 15, c: RED },
            { x: 489.15, y: 40.2, s: "CTS-1", size: 15, b: true, c: RED },
            { x: 490.6, y: 32.6, s: "after 5h reaction", size: 14, b: true, c: RED },
            { x: 484.78, y: 25.7, s: "486  eV", size: 9, b: true },
            { x: 489.24, y: 25.4, s: "486.9  eV", size: 9, b: true },
            { x: 489.84, y: 9.6, s: "47%", size: 15, c: RED },
        ],
    },
});
makeChart({
    ...BOT, box: [330, 262, 345, 278], pad: [181.7, 21, 20], xr: [492.88, 498.05], ticks: eRightTicks,
    frame: { sides: "trb", mid: MID, major: eRightTicks, brk: true },
    datasets: [
        base(eTRBase, "#3aa070"), base(eBRBase, "#ff9a30"),
        peak(eTRSn2, SN2R_LINE, SN2R_FILL, 0), peak(eTRSn4, SN4R_LINE, SN4R_FILL, 0),
        peak(eBRSn2, SN2R_LINE, SN2R_FILL, 1), peak(eBRSn4, SN4R_LINE, SN4R_FILL, 1),
        curve(eTRBlack, "#222", 1.2), curve(eTRRed, RED, 1.2),
        curve(eBRBlack, "#222", 1.2), curve(eBRRed, RED, 1.2),
    ],
    notes: {
        vlines: [
            { x: 494.89, y1: 67, y2: 5 },
            { x: 495.53, y1: 73.1, y2: 1.2 },
        ],
        arrows: [
            { x1: 493.42, x2: 495.53, y: 60.9 },
            { x1: 493.42, x2: 495.53, y: 8.9 },
            { x1: 497.35, x2: 496.13, y: 21.1, c: RED, w: 2 },
        ],
        texts: [
            { x: 497.33, y: 94.5, s: "Sn 3d", size: 14, b: true, c: RED },
            { x: 497.33, y: 86.1, s: "CTS-1", size: 14, b: true, c: RED },
            { x: 495.08, y: 84.1, s: "Sn 3d_{3/2}", size: 14, b: true },
            { x: 493.9, y: 81.5, s: "494.6 eV", size: 9, b: true },
            { x: 494.27, y: 73.9, s: "Sn^{2+}", size: 14, b: true },
            { x: 496.6, y: 71.1, s: "Sn^{4+}", size: 14, b: true },
            { x: 496.91, y: 62.8, s: "495.6 eV", size: 9, b: true },
            { x: 493.9, y: 24.2, s: "494.3 eV", size: 9, b: true },
            { x: 496.49, y: 28, s: "495.5 eV", size: 9, b: true },
        ],
    },
});

// f: S 2p
const SN2S = ["#e040e0", "rgba(240,130,240,0.5)"];
const CU1S = ["#4848ff", "rgba(150,160,255,0.5)"];
const SN4S = ["#ff9a40", "rgba(255,200,120,0.55)"];
const CU2S = ["#ff3a3a", "rgba(255,70,70,0.55)"];
makeChart({
    ...BOT, box: [660, 262, 337, 278], pad: [33.3, 21, 14.3], xr: [159.95, 166.7], ticks: fTicks,
    frame: { sides: "tlbr", mid: MID, major: fTicks },
    datasets: [
        base(fTopBase, "#ee2266"), base(fBotBase, "#ee2266"),
        peak(fTopCu2, CU2S[0], CU2S[1], 0), peak(fTopSn4, SN4S[0], SN4S[1], 0),
        peak(fTopCu1, CU1S[0], CU1S[1], 0), peak(fTopSn2, SN2S[0], SN2S[1], 0),
        peak(fBotCu2, CU2S[0], CU2S[1], 1), peak(fBotSn4, SN4S[0], SN4S[1], 1),
        peak(fBotCu1, CU1S[0], CU1S[1], 1), peak(fBotSn2, SN2S[0], SN2S[1], 1),
        curve(fTopRaw, "#333", 0.9), curve(fTopFit, RED, 1.5),
        curve(fBotRaw, "#333", 0.9), curve(fBotFit, RED, 1.5),
    ],
    notes: {
        vlines: [
            { x: 161.11, y1: 64.7, y2: 0 },
            { x: 161.81, y1: 73.1, y2: 0.5 },
            { x: 163.09, y1: 83, y2: 3.5 },
            { x: 164.35, y1: 68.2, y2: 12.7 },
        ],
        texts: [
            { x: 163.39, y: 92.2, s: "S 2p _{1/2}", size: 14, b: true },
            { x: 161.91, y: 84.9, s: "S 2p _{3/2}", size: 14, b: true },
            { x: 166.19, y: 95.3, s: "S 2p", size: 14, b: true, c: RED },
            { x: 166.04, y: 86.1, s: "CTS-1", size: 14, b: true, c: RED },
            { x: 163.04, y: 71.6, s: "Sn^{4+} -S", size: 15, b: true },
            { x: 161.79, y: 64.7, s: "Cu^{+} -S", size: 15, b: true },
            { x: 161.13, y: 56.3, s: "Sn^{2+} -S", size: 15, b: true },
            { x: 164.36, y: 58.6, s: "Cu^{2+} -S", size: 15, b: true },
            { x: 160.97, y: 46, s: "161.2 ev", size: 9, b: true },
            { x: 161.99, y: 46, s: "161.9 ev", size: 9, b: true },
            { x: 163.12, y: 44.8, s: "163.3 ev", size: 9, b: true },
            { x: 164.44, y: 45.1, s: "164.6 ev", size: 9, b: true },
            { x: 164.36, y: 35.6, s: "CTS-1", size: 14, b: true, c: RED, align: "left" },
            { x: 164.36, y: 27.5, s: "after 5h reaction", size: 14, b: true, c: RED, align: "left" },
            { x: 163.12, y: 2.4, s: "163.2 ev", size: 9, b: true },
            { x: 164.32, y: 2.4, s: "164.7 ev", size: 9, b: true },
        ],
    },
});
</script>
</body>
</html>
